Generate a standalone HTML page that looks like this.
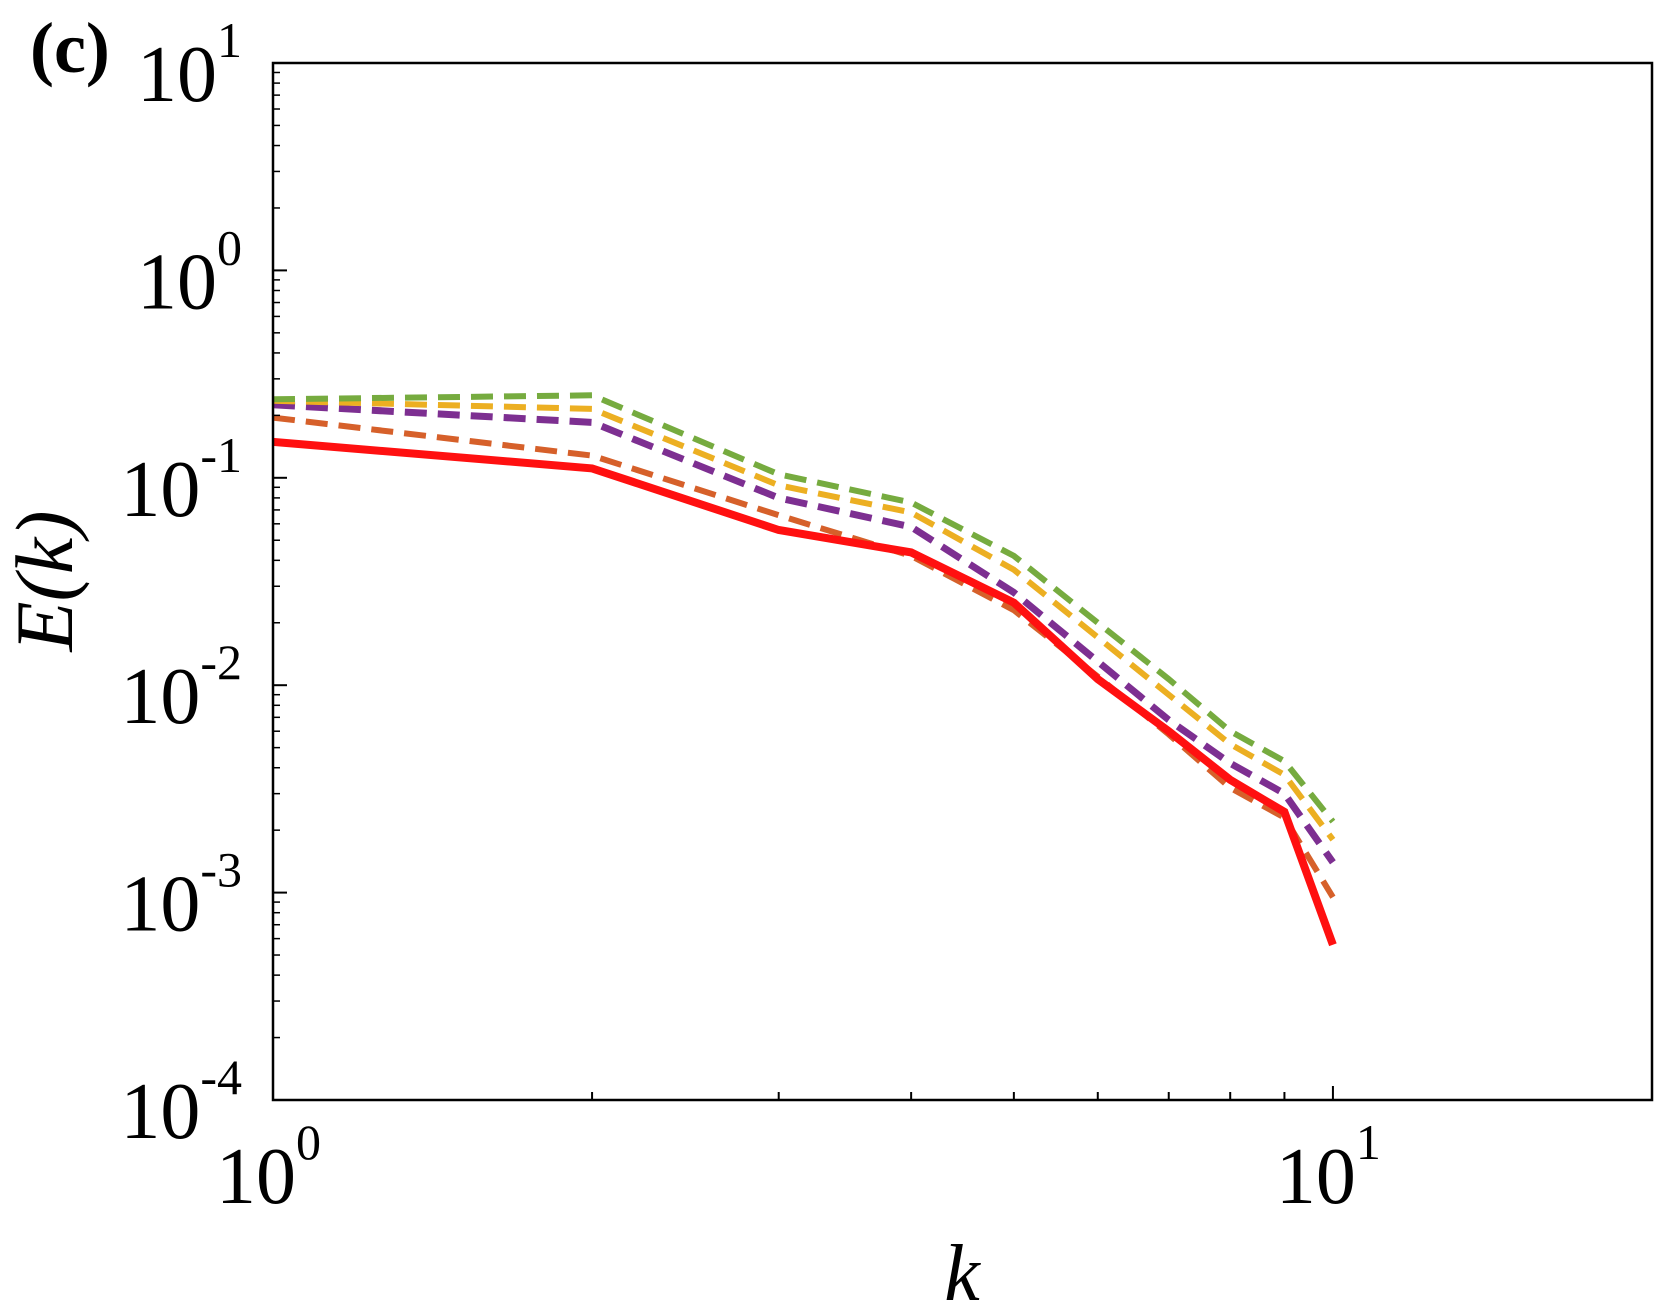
<!DOCTYPE html>
<html><head><meta charset="utf-8"><style>
html,body{margin:0;padding:0;background:#fff;}
svg text{font-family:"Liberation Serif",serif;fill:#000;}
</style></head><body>
<svg id="chart" width="1662" height="1307" viewBox="0 0 1662 1307" xmlns="http://www.w3.org/2000/svg">
<g id="series"></g>
<rect x="273" y="63" width="1379" height="1037" fill="none" stroke="#000" stroke-width="2.5"/>
<g id="axes"></g>
<text x="30" y="72" font-size="72" font-weight="bold">(c)</text>
<text x="0" y="0" font-size="82" font-style="italic" transform="translate(72,581) rotate(-90)" text-anchor="middle">E(k)</text>
<text x="962" y="1300" font-size="80" font-style="italic" text-anchor="middle">k</text>
</svg>
<script>
const kValues=[1,2,3,4,5,6,7,8,9,10];
const redSolid=[0.149,0.111,0.056,0.0437,0.025,0.0107,0.006,0.0035,0.00245,0.00056];
const greenDash=[0.239,0.25,0.104,0.076,0.042,0.020,0.0107,0.006,0.0043,0.0022];
const yellowDash=[0.235,0.215,0.092,0.068,0.036,0.017,0.009,0.0052,0.0037,0.0018];
const purpleDash=[0.225,0.185,0.08,0.058,0.028,0.013,0.0068,0.0042,0.003,0.0014];
const orangeDash=[0.195,0.128,0.066,0.042,0.023,0.011,0.0058,0.0032,0.0023,0.00095];
const yDecades=[1,0,-1,-2,-3,-4];
const xDecades=[0,1];

const NS="http://www.w3.org/2000/svg";
const L=273,R=1652,T=63,B=1100;
const xMin=0,xMax=Math.log10(20);
const yMin=-4,yMax=1;
function xs(k){return L+(Math.log10(k)-xMin)/(xMax-xMin)*(R-L);}
function ys(v){return B-(Math.log10(v)-yMin)/(yMax-yMin)*(B-T);}
const axes=document.getElementById('axes');
const series=document.getElementById('series');
function mk(tag,attrs,parent){const e=document.createElementNS(NS,tag);for(const a in attrs)e.setAttribute(a,attrs[a]);parent.appendChild(e);return e;}

for(let d=yMin;d<=yMax;d++){
  const y=ys(Math.pow(10,d));
  const t=mk('line',{x1:L,x2:L+14,y1:y,y2:y,stroke:'#000','stroke-width':2},axes);
  
  
  if(d<yMax){for(let m=2;m<10;m++){const ym=ys(m*Math.pow(10,d));
    const mt=mk('line',{x1:L,x2:L+7,y1:ym,y2:ym,stroke:'#000','stroke-width':1.5},axes);
    
    }}
}
yDecades.forEach(d=>{
  const y=ys(Math.pow(10,d));
  const tx=mk('text',{x:242,y:y+38,'font-size':80,'text-anchor':'end'},axes);
  
  
  tx.appendChild(document.createTextNode('10'));
  const sp=mk('tspan',{dy:-44,'font-size':50},tx);
  sp.textContent=String(d);
});
for(let k=2;k<=10;k++){
  const x=xs(k);const major=(k===10);
  const t=mk('line',{x1:x,x2:x,y1:B,y2:B-(major?14:8),stroke:'#000','stroke-width':2},axes);
  
  
}
xDecades.forEach(d=>{
  const x=xs(Math.pow(10,d));
  const tx=mk('text',{x:x-57,y:B+103,'font-size':80,'text-anchor':'start'},axes);
  
  
  tx.appendChild(document.createTextNode('10'));
  const sp=mk('tspan',{dy:-44,'font-size':50},tx);
  sp.textContent=String(d);
});
function line(vals,color,width,dash,name){
  const d=vals.map((v,i)=>(i?'L':'M')+xs(kValues[i]).toFixed(1)+','+ys(v).toFixed(1)).join(' ');
  const p=mk('path',{d:d,fill:'none',stroke:color,'stroke-width':width,'stroke-dasharray':dash,'stroke-linejoin':'miter'},series);
  
  
}
line(orangeDash,'#d6602a',6,'22 11','series-orange');
line(purpleDash,'#7d2f91',7,'22 11','series-purple');
line(yellowDash,'#ecaf22',6,'22 11','series-yellow');
line(greenDash,'#76ab3f',6,'22 11','series-green');
line(redSolid,'#ff1010',8,'none','series-red');
</script>
</body></html>
